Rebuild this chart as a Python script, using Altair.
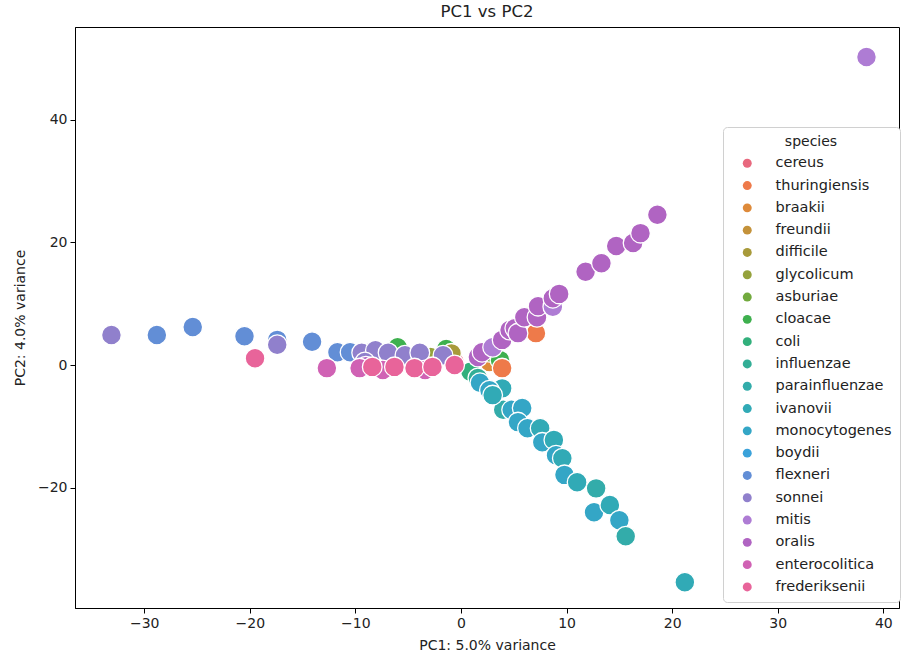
import altair as alt
import pandas as pd

# ---------------- data ----------------
species_order = ["cereus", "thuringiensis", "braakii", "freundii", "difficile",
                 "glycolicum", "asburiae", "cloacae", "coli", "influenzae",
                 "parainfluenzae", "ivanovii", "monocytogenes", "boydii",
                 "flexneri", "sonnei", "mitis", "oralis", "enterocolitica",
                 "frederiksenii"]
palette = ["#e8697e", "#ee7a4a", "#de8a3a", "#c4923a", "#a89a3a",
           "#95a23c", "#72aa3e", "#3eb04e", "#32b07c", "#33ae96",
           "#33acaa", "#31aab6", "#34a6c6", "#3ba2da",
           "#628ed6", "#9080cc", "#ae7cd4", "#b064c2", "#d062b4",
           "#e8649a"]

species = [
    "cereus", "braakii", "freundii", "glycolicum", "coli", "influenzae", "boydii", "asburiae",
    "cloacae", "cloacae", "difficile", "cloacae", "thuringiensis", "thuringiensis",
    "flexneri", "flexneri", "flexneri", "flexneri", "flexneri", "flexneri", "flexneri",
    "sonnei", "sonnei", "sonnei", "sonnei", "sonnei", "sonnei", "sonnei", "sonnei", "sonnei",
    "oralis", "enterocolitica", "enterocolitica", "enterocolitica", "enterocolitica",
    "frederiksenii", "frederiksenii", "frederiksenii", "frederiksenii", "frederiksenii", "frederiksenii",
    "oralis", "oralis", "mitis", "oralis", "oralis", "oralis", "oralis", "oralis", "oralis",
    "oralis", "mitis", "oralis", "oralis", "oralis", "oralis", "oralis", "oralis", "oralis", "oralis",
    "mitis",
    "monocytogenes", "ivanovii", "monocytogenes", "parainfluenzae", "ivanovii", "monocytogenes",
    "monocytogenes", "monocytogenes", "monocytogenes", "ivanovii", "monocytogenes", "ivanovii",
    "monocytogenes", "ivanovii", "monocytogenes", "ivanovii", "parainfluenzae", "monocytogenes",
    "ivanovii", "monocytogenes", "parainfluenzae", "ivanovii",
]
pc1 = [
    -0.6, 2.7, -1.0, -2.9, 0.9, 1.6, -6.7, 2.7,
    -6.0, -1.4, -0.9, 3.7, 7.1, 3.9,
    -28.8, -25.4, -20.5, -17.4, -14.1, -11.7, -10.5,
    -33.1, -17.4, -9.4, -8.1, -6.9, -5.3, -3.9, -1.7, -9.1,
    -9.0, -12.7, -9.6, -7.4, -3.4,
    -19.5, -8.4, -6.3, -4.4, -2.7, -0.6,
    1.6, 2.0, 3.0, 3.9, 4.6, 5.1, 5.4, 6.0, 7.2,
    7.3, 8.7, 8.7, 9.3, 11.8, 13.3, 14.7, 16.3, 17.0, 18.6,
    38.4,
    1.8, 3.9, 2.7, 4.0, 3.0, 4.8,
    5.8, 5.4, 6.3, 7.5, 7.7, 8.8,
    9.0, 9.6, 9.8, 11.0, 12.8, 12.6,
    14.1, 15.0, 15.6, 21.2,
]
pc2 = [
    0.5, 0.5, 2.1, 1.3, -1.1, -2.1, 1.3, 2.1,
    2.9, 2.6, 1.9, 0.8, 5.2, -0.5,
    4.9, 6.2, 4.7, 4.1, 3.8, 2.1, 2.1,
    4.9, 3.3, 2.0, 2.4, 2.0, 1.6, 2.0, 1.6, 0.5,
    -0.2, -0.5, -0.5, -0.8, -0.8,
    1.1, -0.3, -0.3, -0.5, -0.3, 0.0,
    1.3, 2.1, 2.9, 4.1, 5.7, 6.0, 5.2, 7.8, 7.8,
    9.6, 9.5, 10.9, 11.6, 15.2, 16.6, 19.4, 19.9, 21.5, 24.5,
    50.2,
    -2.9, -3.8, -4.1, -7.3, -4.9, -7.3,
    -7.0, -9.3, -10.3, -10.3, -12.6, -12.2,
    -14.7, -15.2, -17.9, -19.1, -20.1, -24.0,
    -22.8, -25.3, -27.9, -35.4,
]
x_ticks = [-30, -20, -10, 0, 10, 20, 30, 40]
y_ticks = [-20, 0, 20, 40]

df = pd.DataFrame({"species": species, "PC1": pc1, "PC2": pc2})

FONT = "DejaVu Sans"

chart = alt.Chart(df).mark_circle(
    size=390, opacity=1, stroke="white", strokeWidth=1.3
).encode(
    x=alt.X("PC1:Q",
            scale=alt.Scale(domain=[-36.55, 41.48], nice=False, zero=False),
            axis=alt.Axis(values=x_ticks, title="PC1: 5.0% variance", grid=False,
                          labelExpr="replace(datum.label, '-', '\u2212')")),
    y=alt.Y("PC2:Q",
            scale=alt.Scale(domain=[-39.6, 55.1], nice=False, zero=False),
            axis=alt.Axis(values=y_ticks, title="PC2: 4.0% variance", grid=False,
                          labelExpr="replace(datum.label, '-', '\u2212')")),
    color=alt.Color("species:N",
                    scale=alt.Scale(domain=species_order, range=palette),
                    legend=alt.Legend(
                        title="species", orient="none", legendX=648, legendY=100,
                        padding=8, strokeColor="#d0d0d0", fillColor="white",
                        cornerRadius=4, titleFontSize=14, titleFontWeight="normal",
                        titleFont=FONT, titleColor="#222222", titleAnchor="middle",
                        titlePadding=7, labelFont=FONT, labelFontSize=14.5,
                        labelColor="#222222", symbolType="circle", symbolSize=80,
                        symbolOffset=9, labelOffset=21, rowPadding=7.3,
                        symbolStrokeWidth=0)),
).properties(
    width=824, height=581,
    title=alt.TitleParams("PC1 vs PC2", font=FONT, fontSize=16.5, fontWeight="normal",
                          color="#222222", anchor="middle", offset=7),
    autosize=alt.AutoSizeParams(type="none"),
    padding={"left": 75, "top": 27, "right": 2, "bottom": 50},
    background="white",
).configure_view(
    stroke="black", strokeWidth=1
).configure_axis(
    domainColor="black", tickColor="black", tickSize=5, labelFont=FONT,
    labelFontSize=14, labelColor="#222222", titleFont=FONT, titleFontSize=14,
    titleFontWeight="normal", titleColor="#222222", labelPadding=3,
).configure_axisX(titlePadding=8).configure_axisY(titlePadding=10)

chart.save("out.html", embed_options={"renderer": "svg", "actions": False})
